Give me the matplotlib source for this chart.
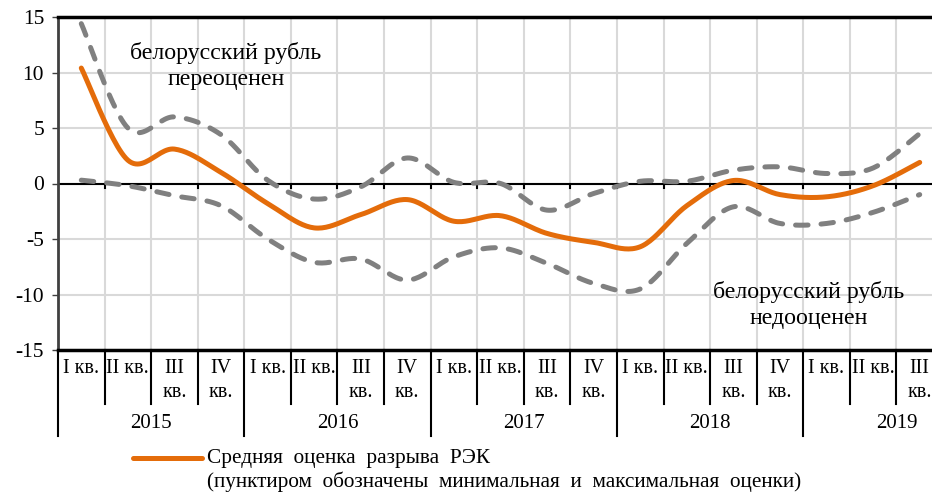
"""Gap of the real effective exchange rate: mean, min and max estimates."""
import numpy as np
import matplotlib
matplotlib.use("Agg")
import matplotlib.pyplot as plt
from matplotlib.lines import Line2D
from matplotlib.transforms import blended_transform_factory

plt.rcParams['font.family'] = ['Liberation Serif', 'DejaVu Serif']

years = ["2015", "2016", "2017", "2018", "2019"]
quarter_labels = ["I кв.", "II кв.", "III\nкв.", "IV\nкв."]
n_quarters = 19

gap_mean = [10.4, 2.1, 3.1, 1.0, -1.8, -4.0, -2.8, -1.45, -3.4, -2.9,
            -4.5, -5.3, -5.7, -2.0, 0.27, -1.0, -1.2, -0.2, 1.9]
gap_max = [14.4, 5.0, 6.0, 4.4, 0.3, -1.4, -0.3, 2.3, 0.1, 0.0,
           -2.4, -0.9, 0.2, 0.2, 1.2, 1.5, 0.9, 1.4, 4.5]
gap_min = [0.3, -0.2, -1.1, -2.0, -5.0, -7.1, -6.8, -8.7, -6.6, -5.8,
           -7.2, -9.0, -9.5, -5.4, -2.1, -3.6, -3.6, -2.6, -1.0]

ORANGE = "#E46C0A"
GREY = "#808080"
GRID = "#D9D9D9"
LW = 3.6


def smooth(x, y, n=25):
    """Excel-style smoothed line through the points (cubic Bezier)."""
    pts = np.column_stack([x, y]).astype(float)
    out = []
    for i in range(len(pts) - 1):
        p0 = pts[i - 1] if i > 0 else pts[i]
        p1, p2 = pts[i], pts[i + 1]
        p3 = pts[i + 2] if i + 2 < len(pts) else pts[i + 1]
        c1 = p1 + (p2 - p0) / 6
        c2 = p2 - (p3 - p1) / 6
        t = np.linspace(0, 1, n)[:, None]
        seg = ((1 - t) ** 3 * p1 + 3 * (1 - t) ** 2 * t * c1
               + 3 * (1 - t) * t ** 2 * c2 + t ** 3 * p2)
        out.append(seg if i == 0 else seg[1:])
    s = np.vstack(out)
    return s[:, 0], s[:, 1]


W, H = 932, 493
fig = plt.figure(figsize=(W / 100, H / 100), dpi=100)
ax = fig.add_axes([58 / W, (H - 350) / H, (943 - 58) / W, 333 / H])

x = np.arange(n_quarters)
ax.set_xlim(-0.5, n_quarters - 0.5)
ax.set_ylim(-15, 15)

# grid
for v in range(-10, 15, 5):
    ax.axhline(v, color=GRID, lw=1.5, zorder=0)
for b in np.arange(n_quarters) + 0.5:
    ax.axvline(b, color=GRID, lw=1.5, zorder=0)
ax.axhline(0, color="black", lw=1.5, zorder=1)
for b in np.arange(n_quarters) + 0.5:
    ax.plot([b, b], [0, -0.45], color="black", lw=1.5, zorder=1)

for arr, style in [(gap_max, "dash"), (gap_min, "dash"), (gap_mean, "solid")]:
    sx, sy = smooth(x, arr)
    if style == "dash":
        ax.plot(sx, sy, color=GREY, lw=LW, dashes=(2.5, 2.6),
                dash_capstyle="round", zorder=3)
    else:
        ax.plot(sx, sy, color=ORANGE, lw=LW, solid_capstyle="round", zorder=4)

# spines / ticks
ax.spines["right"].set_visible(False)
ax.spines["top"].set_linewidth(2.5)
ax.spines["bottom"].set_linewidth(2.5)
ax.spines["left"].set_linewidth(2)
ax.spines["left"].set_color("#404040")
ax.set_yticks(range(-15, 16, 5))
ax.set_yticklabels([str(v) for v in range(-15, 16, 5)], fontsize=15.5)
ax.tick_params(axis="y", length=4, width=1, pad=6, color="#404040")
ax.set_xticks([])

# category axis
tr = blended_transform_factory(ax.transData, ax.transAxes)
for i in range(n_quarters):
    ax.text(i, -0.028, quarter_labels[i % 4], transform=tr, ha="center",
            va="top", fontsize=14.5, linespacing=1.35, clip_on=False)
for b in np.arange(n_quarters + 1) - 0.5:
    low = -0.258 if (b + 0.5) % 4 == 0 else -0.162
    ax.add_line(Line2D([b, b], [0, low], transform=tr, color="black",
                       lw=1.5, clip_on=False))
for j, yr in enumerate(years):
    ax.text(4 * j + 1.5, -0.222, yr, transform=tr, ha="center", va="center",
            fontsize=15, clip_on=False)

# annotations
fig.text(226 / W, 1 - 66 / H, "белорусский рубль\nпереоценен", ha="center",
         va="center", fontsize=17.2, linespacing=1.32)
fig.text(809 / W, 1 - 305 / H, "белорусский рубль\nнедооценен", ha="center",
         va="center", fontsize=17.2, linespacing=1.32)

# legend
fig.add_artist(Line2D([133 / W, 202 / W], [1 - 458 / H, 1 - 458 / H],
                      color=ORANGE, lw=LW, solid_capstyle="round"))
fig.text(207 / W, 1 - 458 / H, "Средняя  оценка  разрыва  РЭК", ha="left",
         va="center", fontsize=15.3)
fig.text(207 / W, 1 - 482 / H,
         "(пунктиром  обозначены  минимальная  и  максимальная  оценки)",
         ha="left", va="center", fontsize=15.3)

fig.savefig("out.png", dpi=100)
